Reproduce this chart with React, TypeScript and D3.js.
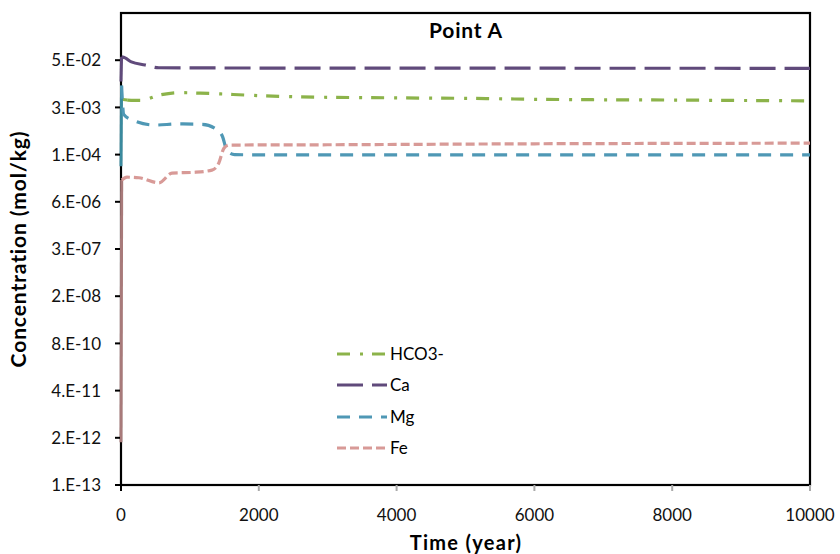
import React from 'react';
import * as d3 from 'd3';

// ---- data ----
const hco3Time = [0, 90, 280, 560, 830, 1150, 1450, 1800, 2600, 4000, 5300, 6000, 8000, 10000];
const hco3Vals = [4.2e-3, 4.0e-3, 3.9e-3, 5.5e-3, 6.4e-3, 6.2e-3, 5.9e-3, 5.5e-3, 4.9e-3, 4.6e-3, 4.4e-3, 4.2e-3, 4.0e-3, 3.8e-3];

const caTime = [0, 8, 60, 150, 350, 550, 2000, 10000];
const caVals = [1.3e-2, 6.2e-2, 5.8e-2, 4.5e-2, 3.7e-2, 3.1e-2, 3.05e-2, 3.0e-2];

const mgTime = [0, 8, 40, 180, 490, 840, 1180, 1420, 1470, 1540, 1650, 3000, 10000];
const mgVals = [6e-5, 1.0e-2, 1.6e-3, 1.1e-3, 8.2e-4, 8.8e-4, 8.6e-4, 5.6e-4, 4.1e-4, 1.6e-4, 1.25e-4, 1.23e-4, 1.23e-4];

const feTime = [0, 10, 87, 260, 550, 740, 1070, 1320, 1420, 1495, 1570, 3000, 6000, 10000];
const feVals = [1.5e-12, 2.5e-5, 3.0e-5, 2.9e-5, 2.1e-5, 3.9e-5, 4.1e-5, 4.7e-5, 7.4e-5, 1.9e-4, 2.3e-4, 2.35e-4, 2.5e-4, 2.6e-4];

const seriesNames = ['HCO3-', 'Ca', 'Mg', 'Fe'];

const xTicks = [0, 2000, 4000, 6000, 8000, 10000];
const yTickExponents = [-13, -11.7, -10.4, -9.1, -7.8, -6.5, -5.2, -3.9, -2.6, -1.3];
const yTickLabels = ['1.E-13', '2.E-12', '4.E-11', '8.E-10', '2.E-08', '3.E-07', '6.E-06', '1.E-04', '3.E-03', '5.E-02'];

const W = 840;
const H = 554;
const L = 121, R = 810, T = 13, B = 485;

const styles = [
  { color: '#8CB34A', dark: '#8CB34A', dash: '13,10,3,9' },
  { color: '#604A7B', dark: '#604A7B', dash: '26,9' },
  { color: '#4F98B5', dark: '#3A8A9E', dash: '13,9' },
  { color: '#D89A97', dark: '#A87A7A', dash: '9,4' },
];

export default function App() {
  const x = d3.scaleLinear().domain([0, 10000]).range([L, R]);
  const y = d3.scaleLog().domain([1e-13, 1]).range([B, T]);

  const data = [
    hco3Time.map((t, i) => [t, hco3Vals[i]]),
    caTime.map((t, i) => [t, caVals[i]]),
    mgTime.map((t, i) => [t, mgVals[i]]),
    feTime.map((t, i) => [t, feVals[i]]),
  ];

  const line = d3
    .line<number[]>()
    .x((d) => x(d[0]))
    .y((d) => y(d[1]))
    .curve(d3.curveMonotoneX);
  const straight = d3
    .line<number[]>()
    .x((d) => x(d[0]))
    .y((d) => y(d[1]));

  const font = 'Lato, "Open Sans", sans-serif';
  const legendY = [354, 385, 417, 448];

  return (
    <div style={{ position: 'fixed', left: 0, top: 0 }}>
      <svg width={W} height={H} style={{ display: 'block', background: '#fff' }}>
        <rect x={0} y={0} width={W} height={H} fill="#fff" />
        {/* frame */}
        <rect x={L} y={T} width={R - L} height={B - T} fill="none" stroke="#000" strokeWidth={2.2} />
        {/* initial transients (solid) */}
        {data.map((d, i) => (
          <path
            key={'s' + i}
            d={straight(d.slice(0, 2)) || ''}
            fill="none"
            stroke={styles[i].dark}
            strokeWidth={3}
          />
        ))}
        {/* series */}
        {data.map((d, i) => (
          <path
            key={i}
            d={line(d.slice(1)) || ''}
            fill="none"
            stroke={styles[i].color}
            strokeWidth={3.2}
            strokeDasharray={styles[i].dash}
          />
        ))}
        {/* y ticks */}
        {yTickExponents.map((e, i) => (
          <g key={i}>
            <line x1={L - 6} x2={L - 1} y1={y(Math.pow(10, e))} y2={y(Math.pow(10, e))} stroke="#000" strokeWidth={2} />
            <text
              x={101}
              y={y(Math.pow(10, e))}
              dy="0.36em"
              textAnchor="end"
              fontFamily={font}
              fontSize={17}
              fill="#111"
            >
              {yTickLabels[i]}
            </text>
          </g>
        ))}
        {/* x ticks */}
        {xTicks.map((t, i) => (
          <g key={i}>
            <line x1={x(t)} x2={x(t)} y1={B} y2={B + 6} stroke={i === 0 ? '#000' : '#aaa'} strokeWidth={2} />
            <text x={x(t)} y={521} textAnchor="middle" fontFamily={font} fontSize={17} fill="#111">
              {t}
            </text>
          </g>
        ))}
        {/* title */}
        <text x={466} y={38} textAnchor="middle" fontFamily={font} fontWeight="bold" fontSize={21} letterSpacing={0.8} fill="#000">
          Point A
        </text>
        {/* axis titles */}
        <text x={466} y={550} textAnchor="middle" fontFamily={font} fontWeight="bold" fontSize={20} letterSpacing={1.3} fill="#000">
          Time (year)
        </text>
        <text
          transform={`translate(26,249) rotate(-90)`}
          textAnchor="middle"
          fontFamily={font}
          fontWeight="bold"
          fontSize={21}
          letterSpacing={0.9}
          fill="#000"
        >
          Concentration  (mol/kg)
        </text>
        {/* legend */}
        {seriesNames.map((n, i) => (
          <g key={n}>
            <line
              x1={337}
              x2={387}
              y1={legendY[i]}
              y2={legendY[i]}
              stroke={styles[i].color}
              strokeWidth={3.2}
              strokeDasharray={styles[i].dash}
            />
            <text x={390} y={legendY[i]} dy="0.36em" fontFamily={font} fontSize={17} fill="#000">
              {n}
            </text>
          </g>
        ))}
      </svg>
    </div>
  );
}
